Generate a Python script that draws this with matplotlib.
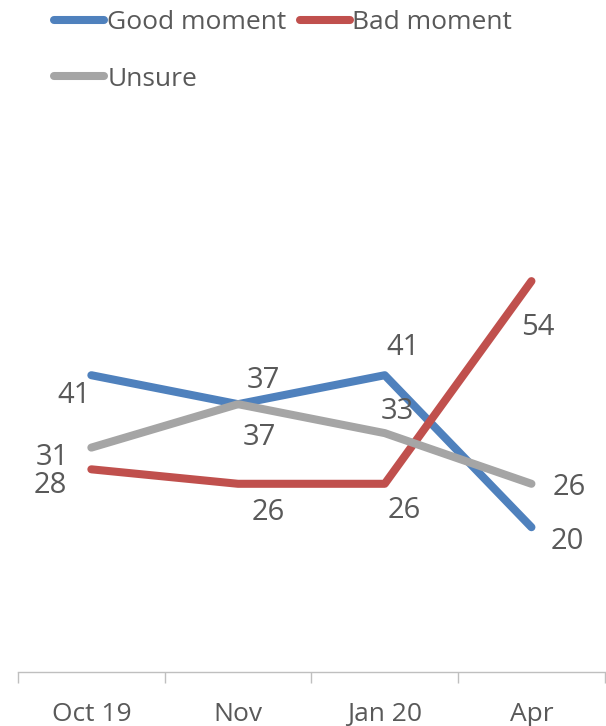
import matplotlib
matplotlib.use("Agg")
import matplotlib.pyplot as plt

categories = ["Oct 19", "Nov", "Jan 20", "Apr"]
good = [41, 37, 41, 20]
bad = [28, 26, 26, 54]
unsure = [31, 37, 33, 26]

series = [
    ("Good moment", good, "#4F81BD"),
    ("Bad moment", bad, "#C0504D"),
    ("Unsure", unsure, "#A5A5A5"),
]

# per-point label offsets in pixels, tuned by hand
label_offsets = {
    "Good moment": [(-17, -20), (25, 24), (18, 28), (36, -14)],
    "Bad moment": [(-41, -16), (30, -29), (20, -27), (6, -46)],
    "Unsure": [(-39, -10), (21, -33), (13, 22), (38, -4)],
}

TEXT = "#595959"
plt.rcParams["font.family"] = ["Open Sans", "DejaVu Sans"]

fig = plt.figure(figsize=(6.06, 7.26), dpi=100)
ax = fig.add_axes([0.0297, 0.0744, 0.9683, 0.7976])

x = range(len(categories))
lines = {}
for name, values, color in series:
    (ln,) = ax.plot(x, values, color=color, linewidth=5.8, label=name,
                    solid_capstyle="round", solid_joinstyle="round")
    lines[name] = ln
    for i, v in enumerate(values):
        dx, dy = label_offsets[name][i]
        ax.annotate(str(v), (i, v), xytext=(dx, dy), textcoords="offset pixels",
                    ha="center", va="center", fontsize=21, color=TEXT)

ax.set_xlim(-0.5, len(categories) - 0.5)
ax.set_ylim(0, 80)
ax.set_yticks([])
ax.set_xticks(list(x))
ax.set_xticklabels(categories, fontsize=19, color=TEXT)
ax.set_xticks([i - 0.5 for i in range(len(categories) + 1)], minor=True)
ax.tick_params(axis="x", which="major", length=0, pad=21.5)
ax.tick_params(axis="x", which="minor", length=8, color="#BFBFBF", width=1)
for side in ("left", "right", "top"):
    ax.spines[side].set_visible(False)
ax.spines["bottom"].set_color("#BFBFBF")
ax.spines["bottom"].set_linewidth(1)

# legend fills column-first, so order entries to read across rows
order = ["Good moment", "Unsure", "Bad moment"]
leg = fig.legend([lines[n] for n in order], order, loc="upper left",
                 bbox_to_anchor=(0.0505, 1.019), ncol=2, frameon=False,
                 fontsize=19, handlelength=1.9, handletextpad=0.1,
                 columnspacing=0.5, labelspacing=1.2)
for t in leg.get_texts():
    t.set_color(TEXT)

fig.savefig("out.png", dpi=100)
